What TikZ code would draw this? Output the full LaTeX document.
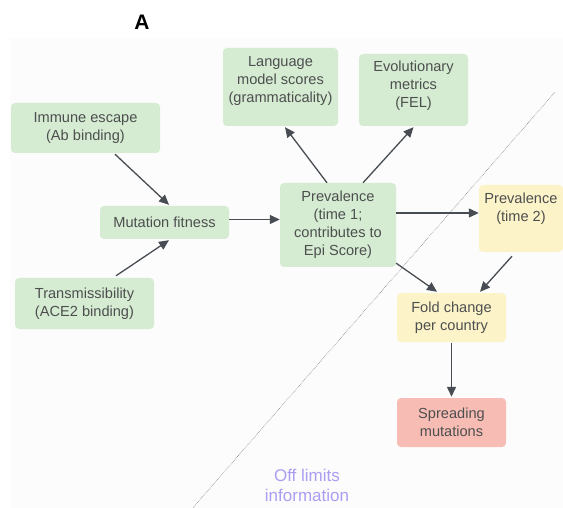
\documentclass[tikz,border=0pt]{standalone}
\usepackage{fontspec}
\setmainfont{Liberation Sans}
\usetikzlibrary{arrows.meta}
\definecolor{boxgreen}{HTML}{D5ECD2}
\definecolor{boxyellow}{HTML}{FCF3C9}
\definecolor{boxred}{HTML}{F7BDB5}
\definecolor{txtgray}{HTML}{4D4F4F}
\definecolor{arrgray}{HTML}{474D52}
\definecolor{offlim}{HTML}{AA9EF2}
\definecolor{panel}{HTML}{FCFCFC}
\begin{document}
\begin{tikzpicture}[x=1pt,y=-1pt,
  box/.style={rounded corners=4pt, inner sep=0pt, font=\fontsize{14.6}{18}\selectfont, text=txtgray, align=center},
  gbox/.style={box, fill=boxgreen},
  ybox/.style={box, fill=boxyellow},
  rbox/.style={box, fill=boxred},
  txt/.style={inner sep=0pt, font=\fontsize{14.6}{18}\selectfont, text=txtgray, align=center},
  arr/.style={draw=arrgray, line width=1.3pt, -{Triangle[length=10pt,width=9pt]}}
]
\useasboundingbox (0,0) rectangle (563,508);
\fill[panel] (10,38) rectangle (563,508);

\node[font=\fontsize{21}{24}\selectfont\bfseries] (lblA) at (142,22) {A};

% dotted divider
\coordinate (dtop) at (555,92);
\coordinate (dbot) at (191,510);
\draw[gray, densely dotted, line width=0.6pt] (dtop) -- (dbot);

% boxes
\node[gbox, minimum width=149pt, minimum height=50pt] (imm) at (85.5,128) {Immune escape\\(Ab binding)};
\node[gbox, minimum width=139pt, minimum height=51pt] (trans) at (84.5,303.5) {Transmissibility\\(ACE2 binding)};
\node[gbox, minimum width=129pt, minimum height=33pt] (mut) at (164.5,222.5) {Mutation fitness};
\node[gbox, minimum width=116pt, minimum height=84pt] (prev1) at (338,225) {Prevalence\\(time 1;\\contributes to\\Epi Score)};
\node[gbox, minimum width=115pt, minimum height=78pt] (lang) at (280.5,87) {};
\node[txt] (langt) at (280.5,81) {Language\\model scores\\(grammaticality)};
\node[gbox, minimum width=109pt, minimum height=72pt] (evo) at (413.5,90) {};
\node[txt] (evot) at (413.5,86) {Evolutionary\\metrics\\(FEL)};
\node[ybox, minimum width=84pt, minimum height=67pt] (prev2) at (521,218.5) {};
\node[txt] (prev2t) at (521,208.5) {Prevalence\\(time 2)};
\node[ybox, minimum width=109pt, minimum height=49pt] (fold) at (451.5,317.5) {Fold change\\per country};
\node[rbox, minimum width=109pt, minimum height=49pt] (spread) at (451.5,422.5) {Spreading\\mutations};

\node[inner sep=0pt, font=\fontsize{17}{20}\selectfont, text=offlim, align=center] (off) at (307,485) {Off limits\\information};

% connectors
\draw[arr] ([xshift=29.5pt,yshift=-1pt]imm.south) -- ([xshift=4.5pt,yshift=1pt]mut.north);
\draw[arr] ([xshift=31.5pt,yshift=2pt]trans.north) -- ([xshift=4.5pt,yshift=-1pt]mut.south);
\draw[arr] ([yshift=3pt]mut.east) -- ([yshift=3pt]mut.east -| prev1.west);
\draw[arr] ([xshift=-11pt]prev1.north) -- ([xshift=4.5pt,yshift=-1pt]lang.south);
\draw[arr] ([xshift=25pt]prev1.north) -- ([yshift=-1pt]evo.south);
\draw[arr] ([yshift=12pt]prev1.east) -- ([yshift=12pt]prev1.east -| prev2.west);
\draw[arr] ([yshift=4pt]prev1.south east) -- ([xshift=-14.5pt,yshift=1pt]fold.north);
\draw[arr] ([xshift=-9pt,yshift=-4pt]prev2.south) -- ([xshift=28.5pt,yshift=1pt]fold.north);
\draw[arr] ([yshift=-1pt]fold.south) -- ([yshift=1pt]spread.north);
\end{tikzpicture}
\end{document}
